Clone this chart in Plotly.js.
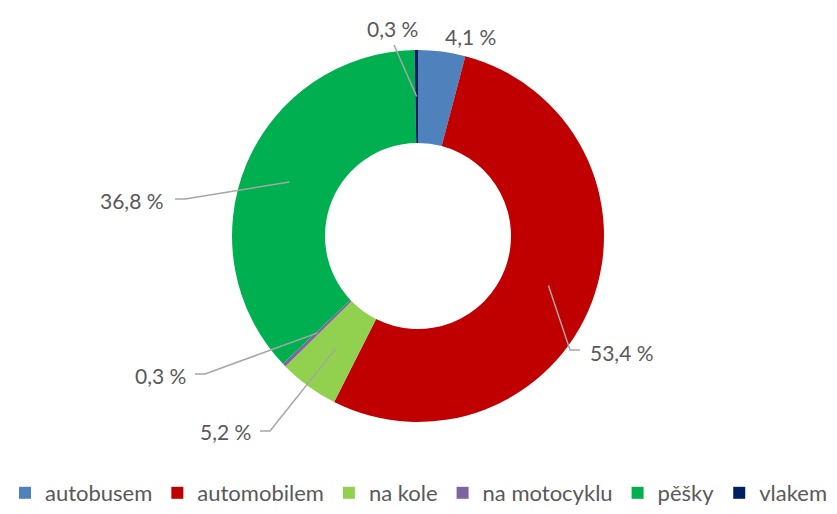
<!DOCTYPE html>
<html>
<head>
<meta charset="utf-8">
<script src="https://cdn.plot.ly/plotly-3.0.1.min.js"></script>
<style>
  body { margin: 0; background: #fff; }
  #chart { width: 837px; height: 514px; }
</style>
</head>
<body>
<div id="chart"></div>
<script>
var categories = ['autobusem', 'automobilem', 'na kole', 'na motocyklu', 'pěšky', 'vlakem'];
var shares = [4.1, 53.4, 5.2, 0.3, 36.8, 0.3];
var labelTexts = ['4,1 %', '53,4 %', '5,2 %', '0,3 %', '36,8 %', '0,3 %'];
var colors = ['#4F81BD', '#C00000', '#92D050', '#8064A2', '#00B050', '#002060'];

// label placement (pixels): text anchor, alignment, and where the leader line ends
var labelStyle = [
    { x: 470, y: 36, anchor: 'center', line: null },
    { x: 588, y: 352, anchor: 'left', line: [[570, 350], [580, 350]] },
    { x: 253, y: 431, anchor: 'right', line: [[270, 431], [260, 431]] },
    { x: 188, y: 375, anchor: 'right', line: [[205, 374], [195, 374]] },
    { x: 166, y: 200, anchor: 'right', line: [[185, 199], [175, 199]] },
    { x: 392, y: 28, anchor: 'center', line: [[394, 45]] }
];

var W = 837, H = 514;
var M = { l: 0, r: 1, t: 50, b: 92 };
var pw = W - M.l - M.r, ph = H - M.t - M.b;
var cx = M.l + pw / 2, cy = M.t + ph / 2;
var R = Math.min(pw, ph) / 2;

function px(x) { return (x - M.l) / pw; }
function py(y) { return 1 - (y - M.t) / ph; }

var textColor = '#595959';
var total = shares.reduce(function (a, b) { return a + b; }, 0);
var annotations = [];
var shapes = [];
var cum = 0;
shares.forEach(function (v, i) {
    var mid = (cum + v / 2) / total * 2 * Math.PI;
    cum += v;
    var s = labelStyle[i];
    annotations.push({
        xref: 'paper', yref: 'paper',
        x: px(s.x), y: py(s.y),
        xanchor: s.anchor, yanchor: 'middle',
        text: labelTexts[i], showarrow: false,
        font: { size: 21, color: textColor }
    });
    if (s.line) {
        var r = 0.75 * R;
        var ax = cx + r * Math.sin(mid), ay = cy - r * Math.cos(mid);
        var d = 'M' + px(ax) + ',' + py(ay);
        s.line.forEach(function (p) { d += ' L' + px(p[0]) + ',' + py(p[1]); });
        shapes.push({
            type: 'path', xref: 'paper', yref: 'paper', path: d,
            line: { color: '#A6A6A6', width: 1.5 }
        });
    }
});

var data = [{
    type: 'pie',
    labels: categories,
    values: shares,
    hole: 0.5,
    sort: false,
    direction: 'clockwise',
    rotation: 0,
    textinfo: 'none',
    hoverinfo: 'label+percent',
    marker: { colors: colors, line: { width: 0 } }
}];

var layout = {
    width: W,
    height: H,
    margin: M,
    paper_bgcolor: '#fff',
    font: { family: 'Lato, "Open Sans", sans-serif', color: textColor },
    showlegend: true,
    legend: {
        orientation: 'h',
        xref: 'container', yref: 'container',
        x: 0.5, xanchor: 'center',
        y: 0, yanchor: 'bottom',
        font: { size: 22, color: textColor },
        traceorder: 'normal'
    },
    annotations: annotations,
    shapes: shapes
};

Plotly.newPlot('chart', data, layout, { displayModeBar: false, staticPlot: true });
</script>
</body>
</html>
